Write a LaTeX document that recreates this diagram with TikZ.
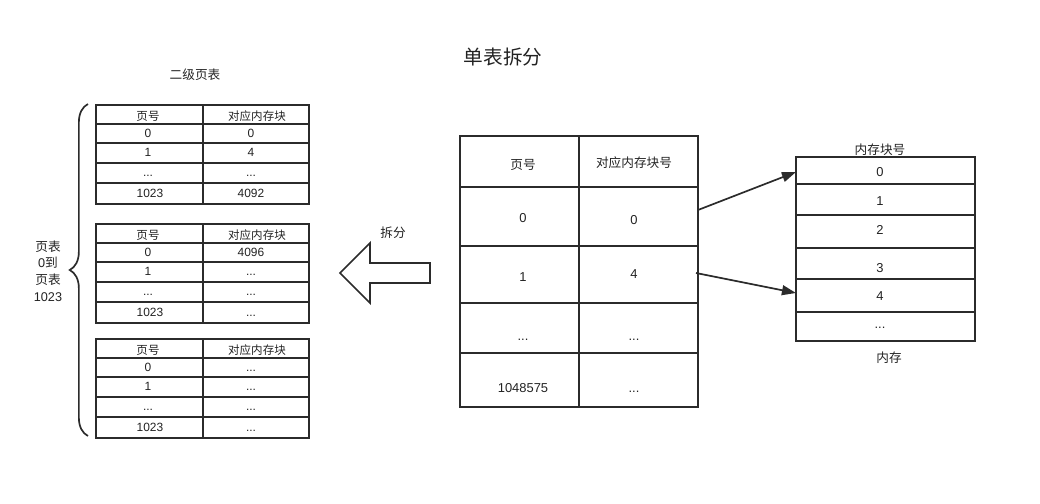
\documentclass[tikz,border=0pt]{standalone}
\usepackage{fontspec}
\setmainfont{Liberation Sans}
\newfontfamily\cjk{Noto Sans CJK SC}
\usepackage{tikz}
\usetikzlibrary{arrows.meta,decorations.pathreplacing}
\definecolor{LineGray}{HTML}{2B2B2B}
\definecolor{TextGray}{HTML}{222222}
\newcommand\ellip{...}

\begin{document}
\begin{tikzpicture}[x=0.025cm, y=-0.025cm, >={Triangle[length=10pt,width=7pt]},
    tbl/.style={line width=1.2pt, LineGray},
    txt/.style={TextGray, inner sep=1pt, text height=6.2pt, text depth=0.6pt,
        font=\fontsize{8.5}{10}\selectfont},
    zh/.style={TextGray, inner sep=1pt, font=\cjk\fontsize{8.2}{10}\selectfont},
    bigtxt/.style={TextGray, inner sep=1pt, text height=6.8pt, text depth=0.6pt,
        font=\fontsize{9.2}{11}\selectfont},
    bigzh/.style={TextGray, inner sep=1pt, font=\cjk\fontsize{9}{11}\selectfont}]
    \useasboundingbox (0,0) rectangle (1040,504);

    % Title
    \node[TextGray, font=\cjk\fontsize{14}{16}\selectfont] (title) at (503,57) {单表拆分};
    \node[bigzh] (lvl2) at (195,75) {二级页表};

    % Second level page tables
    \foreach \top/\va/\vb/\vd [count=\i] in {105/0/4/4092, 224/4096/\ellip/\ellip, 339/\ellip/\ellip/\ellip} {
        \draw[tbl] (96,\top) rectangle (309,\top+99);
        \draw[tbl] (203,\top) -- (203,\top+99);
        \foreach \dy in {19,38,58,78}
            \draw[tbl] (96,\top+\dy) -- (309,\top+\dy);
        \node[zh] (t\i-h1) at (148,\top+11) {页号};
        \node[zh] (t\i-h2) at (257,\top+11) {对应内存块};
        \node[txt] (t\i-a1) at (148,\top+29) {0};
        \node[txt] (t\i-a2) at (251,\top+29) {\va};
        \node[txt] (t\i-b1) at (148,\top+48) {1};
        \node[txt] (t\i-b2) at (251,\top+48) {\vb};
        \node[txt] (t\i-c1) at (148,\top+68) {\ellip};
        \node[txt] (t\i-c2) at (251,\top+68) {\ellip};
        \node[txt] (t\i-d1) at (150,\top+89) {1023};
        \node[txt] (t\i-d2) at (251,\top+89) {\vd};
    }

    % Brace over all tables
    \draw[tbl, decorate, decoration={brace, amplitude=13pt}] (88,436) -- (88,104);
    \node[TextGray, align=center, font=\fontsize{9}{11.8}\selectfont] (range) at (48,271)
        {{\cjk 页表}\\0{\cjk 到}\\{\cjk 页表}\\1023};

    % Split arrow
    \draw[tbl] (430,263) -- (370,263) -- (370,243) -- (340,273) -- (370,303)
        -- (370,283) -- (430,283) -- cycle;
    \node[bigzh] (split) at (393,233) {拆分};

    % Single page table
    \draw[tbl] (460,136) rectangle (698,407);
    \draw[tbl] (579,136) -- (579,407);
    \foreach \y in {187,246,303,353}
        \draw[tbl] (460,\y) -- (698,\y);
    \node[bigzh] (bt-h1) at (523,165) {页号};
    \node[bigzh] (bt-h2) at (634,163) {对应内存块号};
    \node[bigtxt] (bt-a1) at (523,218) {0};
    \node[bigtxt] (bt-a2) at (634,220) {0};
    \node[bigtxt] (bt-b1) at (523,277) {1};
    \node[bigtxt] (bt-b2) at (634,274) {4};
    \node[bigtxt] (bt-c1) at (523,336) {\ellip};
    \node[bigtxt] (bt-c2) at (634,336) {\ellip};
    \node[bigtxt] (bt-d1) at (523,388) {1048575};
    \node[bigtxt] (bt-d2) at (634,388) {\ellip};

    % Memory
    \draw[tbl] (796,157) rectangle (975,341);
    \foreach \y in {184,215,248,279,312}
        \draw[tbl] (796,\y) -- (975,\y);
    \node[bigzh] (mem-h) at (880,150) {内存块号};
    \node[bigtxt] (m0) at (880,172) {0};
    \node[bigtxt] (m1) at (880,201) {1};
    \node[bigtxt] (m2) at (880,230) {2};
    \node[bigtxt] (m3) at (880,268) {3};
    \node[bigtxt] (m4) at (880,296) {4};
    \node[bigtxt] (m5) at (880,324) {\ellip};
    \node[bigzh] (mem) at (889,358) {内存};

    % Mapping arrows
    \coordinate (bt-r0) at (698,210);
    \coordinate (bt-r1) at (696,273);
    \coordinate (mem-r0) at (796,172);
    \coordinate (mem-r4) at (796,293);
    \draw[->, line width=1.2pt, LineGray] (bt-r0) -- (mem-r0);
    \draw[->, line width=1.2pt, LineGray] (bt-r1) -- (mem-r4);

\end{tikzpicture}
\end{document}
